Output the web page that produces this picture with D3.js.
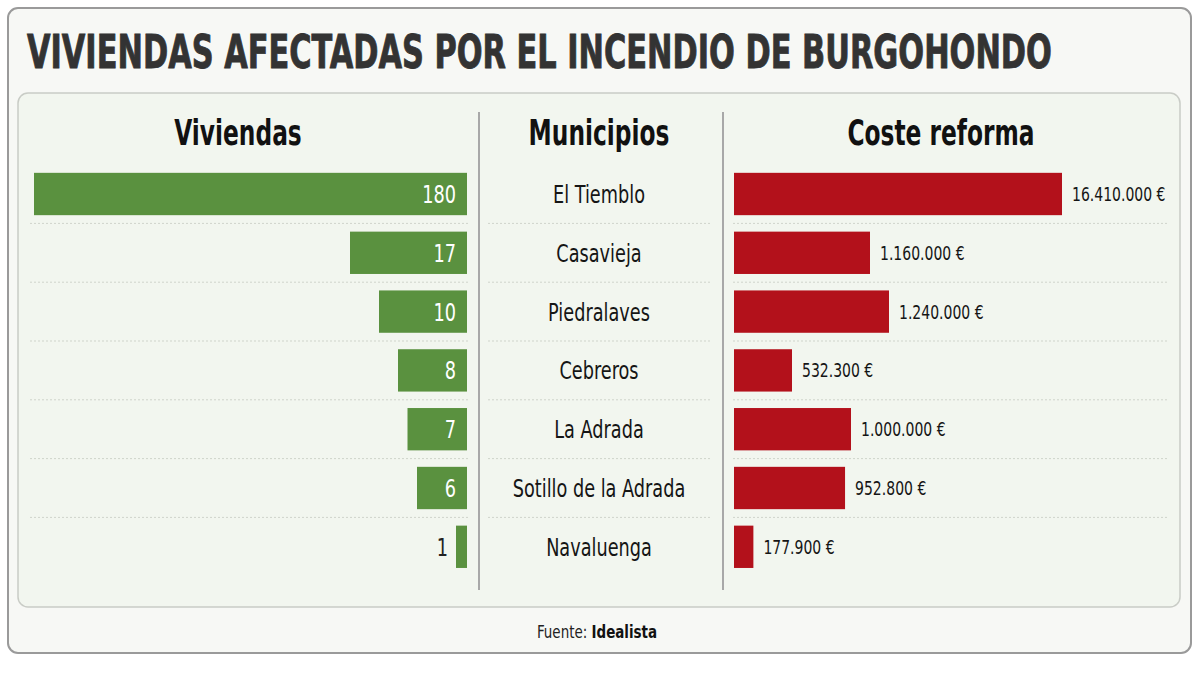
<!DOCTYPE html>
<meta charset="utf-8" />
<head>
  <title>Viviendas afectadas por el incendio de Burgohondo</title>
  <style>
    body { margin: 0; background: #ffffff; }
    svg text { font-family: "DejaVu Sans Condensed", "Liberation Sans Narrow", "Roboto", sans-serif; }
    .title { font-weight: bold; fill: #333333; stroke: #333333; stroke-width: 0.9; }
    .head { font-weight: bold; fill: #111111; }
    .muni { fill: #151515; }
    .dots { stroke: #cfd4cb; stroke-width: 1; stroke-dasharray: 2, 2; }
  </style>
</head>
<body>
  <div id="chart"></div>
  <script src="https://d3js.org/d3.v7.min.js"></script>
  <script>
    // datos
    const municipios = ["El Tiemblo", "Casavieja", "Piedralaves", "Cebreros", "La Adrada", "Sotillo de la Adrada", "Navaluenga"];
    const viviendas = [180, 17, 10, 8, 7, 6, 1];
    const coste = [16410000, 1160000, 1240000, 532300, 1000000, 952800, 177900];
    const costeLabels = ["16.410.000 €", "1.160.000 €", "1.240.000 €", "532.300 €", "1.000.000 €", "952.800 €", "177.900 €"];

    const width = 1200, height = 673;
    const svg = d3.select("#chart").append("svg")
      .attr("width", width).attr("height", height);

    // texto estrecho: la fuente instalada es más ancha que la del original
    function narrow(sel, x, y, sx) {
      sel.attr("transform", function (d, i) {
        const xx = typeof x === "function" ? x(d, i) : x;
        const yy = typeof y === "function" ? y(d, i) : y;
        return "translate(" + xx + "," + yy + ") scale(" + sx + ",1)";
      });
      return sel;
    }

    // marco exterior
    svg.append("rect")
      .attr("x", 8).attr("y", 8).attr("width", 1183).attr("height", 645)
      .attr("rx", 10).attr("fill", "#f7f8f5").attr("stroke", "#9a9a9a").attr("stroke-width", 2);

    const title = svg.append("text").attr("class", "title")
      .attr("font-size", 46)
      .text("VIVIENDAS AFECTADAS POR EL INCENDIO DE BURGOHONDO");
    narrow(title, 27, 68, 1025 / title.node().getComputedTextLength());

    // panel interior
    svg.append("rect")
      .attr("x", 18).attr("y", 93).attr("width", 1162).attr("height", 514)
      .attr("rx", 10).attr("fill", "#f2f6ef").attr("stroke", "#c9ccc6").attr("stroke-width", 1.5);

    // separadores verticales
    [479, 723].forEach(x => {
      svg.append("line").attr("x1", x).attr("x2", x).attr("y1", 112).attr("y2", 590)
        .attr("stroke", "#a8a8a8").attr("stroke-width", 2);
    });

    // cabeceras
    const heads = [["Viviendas", 238], ["Municipios", 599], ["Coste reforma", 941]];
    heads.forEach(([t, x]) => {
      narrow(svg.append("text").attr("class", "head")
        .attr("text-anchor", "middle")
        .attr("font-size", 36).text(t), x, 145, 0.72);
    });

    // escalas
    const y = d3.scaleBand().domain(municipios).range([164.6, 576.2])
      .paddingInner(0.28).paddingOuter(0.14);
    const step = y.step();

    const vivRight = 467;
    const wViv = d3.scaleLinear().domain([0, 1, 6, 10, 17, 180]).range([0, 11, 50, 88, 117, 433]);
    const costLeft = 734;
    const wCoste = d3.scaleLinear()
      .domain([0, 532300, 1000000, 1160000, 1240000, 16410000])
      .range([0, 58, 117, 136, 155, 328]);

    // líneas de puntos entre filas
    const sep = municipios.slice(0, -1).map(m => y(m) + y.bandwidth() / 2 + step / 2);
    const dotCols = [[30, 470], [488, 712], [733, 1168]];
    dotCols.forEach(([x1, x2]) => {
      svg.append("g").selectAll("line").data(sep).join("line")
        .attr("class", "dots")
        .attr("x1", x1).attr("x2", x2).attr("y1", d => d).attr("y2", d => d);
    });

    // barras viviendas
    const gv = svg.append("g");
    gv.selectAll("rect").data(viviendas).join("rect")
      .attr("x", d => vivRight - wViv(d))
      .attr("y", (d, i) => y(municipios[i]))
      .attr("width", d => wViv(d))
      .attr("height", y.bandwidth())
      .attr("fill", "#5a913f");
    narrow(gv.selectAll("text").data(viviendas).join("text")
      .attr("text-anchor", "end")
      .attr("font-size", 24)
      .attr("fill", d => wViv(d) > 30 ? "#ffffff" : "#222222")
      .text(d => d),
      d => wViv(d) > 30 ? vivRight - 11 : vivRight - wViv(d) - 8,
      (d, i) => y(municipios[i]) + y.bandwidth() / 2 + 9, 0.82);

    // municipios
    narrow(svg.append("g").selectAll("text").data(municipios).join("text")
      .attr("class", "muni")
      .attr("text-anchor", "middle")
      .attr("font-size", 24)
      .text(d => d),
      599, d => y(d) + y.bandwidth() / 2 + 9, 0.82);

    // barras coste
    const gc = svg.append("g");
    gc.selectAll("rect").data(coste).join("rect")
      .attr("x", costLeft)
      .attr("y", (d, i) => y(municipios[i]))
      .attr("width", d => wCoste(d))
      .attr("height", y.bandwidth())
      .attr("fill", "#b3111b");
    narrow(gc.selectAll("text").data(coste).join("text")
      .attr("font-size", 19)
      .attr("fill", "#151515")
      .text((d, i) => costeLabels[i]),
      d => costLeft + wCoste(d) + 10,
      (d, i) => y(municipios[i]) + y.bandwidth() / 2 + 7, 0.82);

    // fuente
    const src = narrow(svg.append("text")
      .attr("text-anchor", "middle")
      .attr("font-size", 17).attr("fill", "#222222"), 597, 638, 0.88);
    src.append("tspan").text("Fuente: ");
    src.append("tspan").attr("font-weight", "bold").attr("fill", "#111111").text("Idealista");
  </script>
</body>
